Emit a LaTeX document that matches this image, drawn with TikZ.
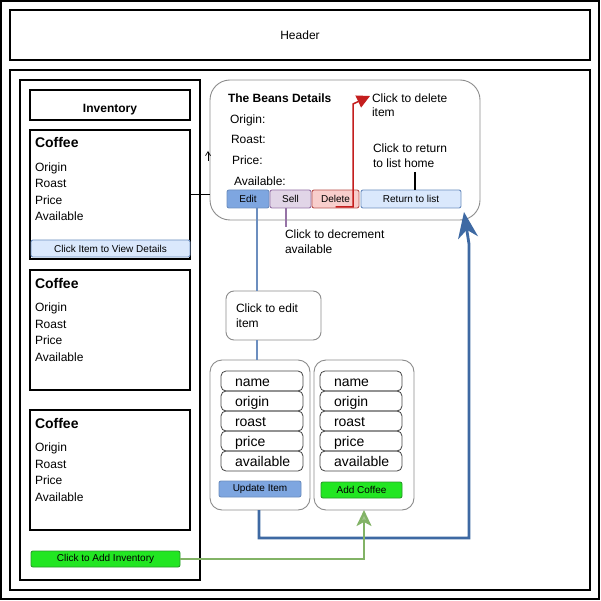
\documentclass[tikz,border=0pt]{standalone}
\usepackage{fontspec}
\setmainfont{Liberation Sans}
\usetikzlibrary{arrows.meta}
\definecolor{editfill}{HTML}{7EA6E0}
\definecolor{editline}{HTML}{6C8EBF}
\definecolor{sellfill}{HTML}{E1D5E7}
\definecolor{sellline}{HTML}{9673A6}
\definecolor{delfill}{HTML}{F8CECC}
\definecolor{delline}{HTML}{B85450}
\definecolor{retfill}{HTML}{DAE8FC}
\definecolor{gfill}{HTML}{22E622}
\definecolor{gline}{HTML}{2A9A2A}
\definecolor{arrowgreen}{HTML}{82B366}
\definecolor{flowblue}{HTML}{3E69A3}
\definecolor{delred}{HTML}{C41E1E}
\definecolor{softgray}{HTML}{8C8C8C}
\definecolor{fieldgray}{HTML}{444444}
\newcommand\fs[1]{\fontsize{#1}{#1}\selectfont}
\newcommand\fsl[2]{\fontsize{#1}{#2}\selectfont}
\tikzset{
  frame/.style={draw=black, line width=1.6pt, inner sep=0pt, outer sep=0pt, anchor=north west},
  card/.style={draw=black, line width=1.2pt, inner sep=0pt, outer sep=0pt, anchor=north west},
  soft/.style={draw=softgray, line width=0.9pt, rounded corners=#1, inner sep=0pt, outer sep=0pt, anchor=north west},
  soft/.default=12pt,
  btn/.style={rounded corners=2pt, line width=0.9pt, inner sep=0pt, outer sep=0pt, anchor=north west, font=\fs{10}},
  txt/.style={inner sep=0pt, outer sep=0pt, anchor=base west, font=\fs{12}},
  field/.style={draw=fieldgray, rounded corners=5pt, line width=0.8pt, minimum width=82pt, minimum height=20pt, inner sep=0pt, outer sep=0pt, anchor=north west},
  fieldtxt/.style={inner sep=0pt, outer sep=0pt, anchor=base west, font=\fs{14}},
}
\newcommand\mkcard[3]{%
  \node[card, minimum width=160pt, minimum height=#3pt] (#1) at (30,#2) {};
  \node[txt, font=\bfseries\fs{14}] (#1c) at (35,#2+18) {Coffee};
  \node[txt] (#1o) at (35,#2+41.5) {Origin};
  \node[txt] (#1r) at (35,#2+58) {Roast};
  \node[txt] (#1p) at (35,#2+74.5) {Price};
  \node[txt] (#1a) at (35,#2+91) {Available};
}
\newcommand\mkform[3]{%
  \node[soft, minimum width=100pt, minimum height=150pt] (#1) at (#2,360) {};
  \node[field] (#1f1) at (#3,371) {};
  \node[field] (#1f2) at (#3,391) {};
  \node[field] (#1f3) at (#3,411) {};
  \node[field] (#1f4) at (#3,431) {};
  \node[field] (#1f5) at (#3,451) {};
  \node[fieldtxt] (#1t1) at (#3+14,386) {name};
  \node[fieldtxt] (#1t2) at (#3+14,406) {origin};
  \node[fieldtxt] (#1t3) at (#3+14,426) {roast};
  \node[fieldtxt] (#1t4) at (#3+14,446) {price};
  \node[fieldtxt] (#1t5) at (#3+14,466) {available};
}
\begin{document}
\begin{tikzpicture}[x=1pt, y=-1pt]
\useasboundingbox (0,0) rectangle (601,601);
\fill[white] (0,0) rectangle (601,601);
% frames
\node[frame, minimum width=598pt, minimum height=598pt] (outer) at (1,1) {};
\node[frame, minimum width=580pt, minimum height=50pt, font=\fs{12}] (header) at (10,10) {Header};
\node[frame, minimum width=580pt, minimum height=520pt] (main) at (10,70) {};
\node[card, minimum width=180pt, minimum height=500pt] (panel) at (20,80) {};
% inventory
\node[card, minimum width=160pt, minimum height=30pt] (invtitle) at (30,90) {};
\node[txt, anchor=base, font=\bfseries\fs{12}] (invtitlet) at (110,113) {Inventory};
\mkcard{cardA}{130}{129}
\mkcard{cardB}{270}{120}
\mkcard{cardC}{410}{120}
\node[btn, draw=editline, fill=retfill, minimum width=159pt, minimum height=17pt] (viewbtn) at (31,240) {Click Item to View Details};
\node[btn, draw=gline, fill=gfill, minimum width=149pt, minimum height=16pt] (addinv) at (31,551) {Click to Add Inventory};
% details
\node[soft=20pt, minimum width=270pt, minimum height=140pt] (details) at (210,80) {};
\node[txt, font=\bfseries\fs{12}] (dtitle) at (228,102.3) {The Beans Details};
\node[txt] (dorig) at (230,123.5) {Origin:};
\node[txt] (droast) at (231,143.5) {Roast:};
\node[txt] (dprice) at (232,164.3) {Price:};
\node[txt] (davail) at (234,185.3) {Available:};
\node[btn, draw=editline, fill=editfill, minimum width=42pt, minimum height=18pt] (edit) at (227,190) {Edit};
\node[btn, draw=sellline, fill=sellfill, minimum width=41pt, minimum height=18pt] (sell) at (270,190) {Sell};
\node[btn, draw=delline, fill=delfill, minimum width=47pt, minimum height=18pt] (delete) at (312,190) {Delete};
\node[btn, draw=editline, fill=retfill, minimum width=100pt, minimum height=18pt] (ret) at (361,190) {Return to list};
% notes (base anchor = baseline of last line)
\node[txt, align=left, font=\fsl{12}{14}] (delnote) at (372,116.3) {Click to delete\\item};
\node[txt, align=left, font=\fsl{12}{15}] (retnote) at (373,167.3) {Click to return\\to list home};
\node[txt, align=left, font=\fsl{12}{15}] (sellnote) at (285,253.3) {Click to decrement\\available};
\node[soft=8pt, minimum width=95pt, minimum height=49pt] (editnote) at (226,291) {};
\node[txt, align=left, font=\fsl{12}{15}] (editnotet) at (236,327) {Click to edit\\item};
% forms
\mkform{upform}{210}{221}
\mkform{addform}{314}{320}
\node[btn, draw=editline, fill=editfill, minimum width=82pt, minimum height=16pt] (upbtn) at (219,481) {Update Item};
\node[btn, draw=gline, fill=gfill, minimum width=81pt, minimum height=16pt] (addbtn) at (321,482) {Add Coffee};
% connector coordinates
\coordinate (eX) at (257,0);
\coordinate (sX) at (286,0);
\coordinate (rX) at (415,0);
\coordinate (gX) at (364,0);
\coordinate (bX) at (259,0);
\coordinate (sEnd) at (286,227);
\coordinate (rTop) at (415,172);
\coordinate (bCorner) at (469,538);
\coordinate (bBend) at (469,244);
\coordinate (bTip) at (464,212);
\coordinate (dBend) at (353,104);
\coordinate (dTip) at (370,96);
\coordinate (smallA) at (208,161);
\coordinate (smallB) at (208,151);
% connectors
\draw[black, line width=0.9pt] (cardA.east) -- (cardA.east -| details.west);
\draw[black, line width=0.7pt, -{Straight Barb[length=4pt,width=5pt]}] (smallA) -- (smallB);
\draw[editline, line width=1.7pt] (eX |- edit.south) -- (eX |- editnote.north);
\draw[editline, line width=1.7pt] (eX |- editnote.south) -- (eX |- upform.north);
\draw[sellline, line width=1.3pt] (sX |- sell.south) -- (sEnd);
\draw[black, line width=1.6pt] (rTop) -- (rX |- ret.north);
\draw[delred, line width=1.5pt, -{Triangle[length=13pt,width=13pt]}] ([yshift=1pt]delete.south) -| (dBend) -- (dTip);
\draw[flowblue, line width=2.8pt, -{Stealth[length=26pt,width=20pt,inset=8pt]}] (bX |- upform.south) |- (bCorner) -- (bBend) -- (bTip);
\draw[arrowgreen, line width=2.4pt, -{Stealth[length=16pt,width=15pt,inset=4pt,fill=arrowgreen!75!white]}] (addinv.east) -| (gX |- addform.south);
\end{tikzpicture}
\end{document}
